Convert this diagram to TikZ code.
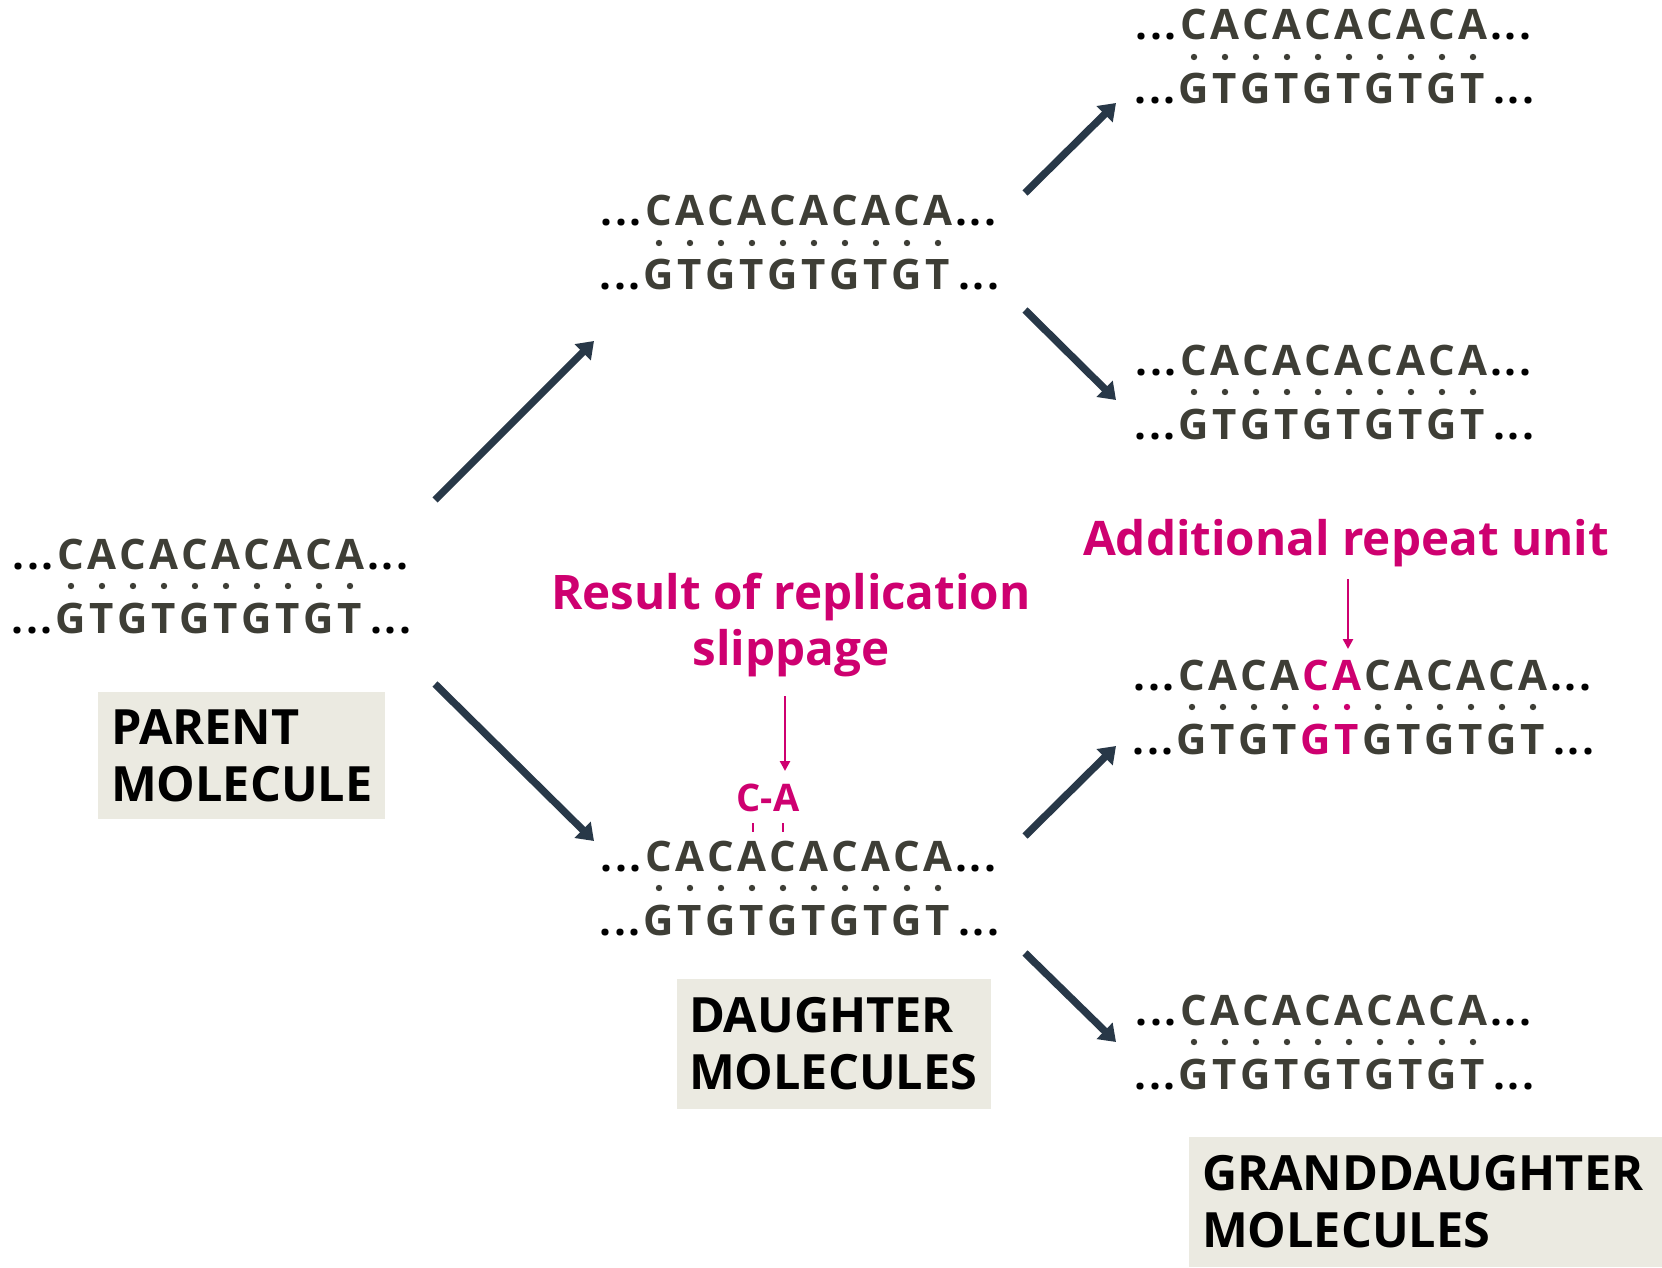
\documentclass[tikz,border=0pt]{standalone}
\usepackage{fontspec}
\setmainfont{Open Sans}
\usetikzlibrary{arrows.meta}
\definecolor{seqc}{RGB}{62,62,54}
\definecolor{pinkc}{RGB}{206,0,112}
\definecolor{arrc}{RGB}{40,56,72}
\definecolor{boxc}{RGB}{235,234,225}
\def\normalseq{C/G/seqc,A/T/seqc,C/G/seqc,A/T/seqc,C/G/seqc,A/T/seqc,C/G/seqc,A/T/seqc,C/G/seqc,A/T/seqc}
\def\mutantseq{C/G/seqc,A/T/seqc,C/G/seqc,A/T/seqc,C/G/pinkc,A/T/pinkc,C/G/seqc,A/T/seqc,C/G/seqc,A/T/seqc,C/G/seqc,A/T/seqc}
\newcommand\tdots{.\kern1.2pt.\kern1.2pt.}
\newcommand\dnaseq[4]{%
  \foreach \t/\b/\c [count=\i from 0] in #4 {
    \node[letter,text=\c] (#1t\i) at ({#2+\i*31},{#3+15}) {\t};
    \node[bp,fill=\c] (#1d\i) at ({#2+\i*31},{#3+32}) {};
    \node[letter,text=\c] (#1b\i) at ({#2+\i*31},{#3+79}) {\b};
    \xdef\lastidx{\i}
  }
  \node[letter,anchor=base east] (#1lt) at ({#2-17},{#3+15}) {\tdots};
  \node[letter,anchor=base east] (#1lb) at ({#2-18},{#3+79}) {\tdots};
  \node[letter,anchor=base west] (#1rt) at ({#2+\lastidx*31+17},{#3+15}) {\tdots};
  \node[letter,anchor=base west] (#1rb) at ({#2+\lastidx*31+20},{#3+79}) {\tdots};
}
\begin{document}
\begin{tikzpicture}[x=0.5pt,y=-0.5pt,
  letter/.style={anchor=base,inner sep=0pt,font=\fontsize{21}{24}\selectfont\bfseries},
  bp/.style={circle,inner sep=0pt,minimum size=3.2pt,draw=none},
  lbl/.style={fill=boxc,font=\fontsize{24.3}{28.5}\selectfont\bfseries,align=left,inner xsep=6.5pt,inner ysep=0pt},
  pinklbl/.style={text=pinkc,font=\fontsize{23.8}{28}\selectfont\bfseries,align=center,inner sep=0pt},
  bigarrow/.style={draw=arrc,line width=3.7pt,-{Triangle[width=11pt,length=8pt]}},
  pinkarrow/.style={draw=pinkc,line width=1.25pt,-{Triangle[width=5pt,length=5pt]}}]
\fill[white] (0,0) rectangle (1662,1268);
\useasboundingbox (0,0) rectangle (1662,1268);
% sequences
\dnaseq{par}{71}{554}{\normalseq}
\dnaseq{dtop}{659}{211}{\normalseq}
\dnaseq{dbot}{659}{856}{\normalseq}
\dnaseq{ga}{1194}{25}{\normalseq}
\dnaseq{gb}{1194}{360}{\normalseq}
\dnaseq{gc}{1192}{675}{\mutantseq}
\dnaseq{gd}{1194}{1010}{\normalseq}
% arrow end points
\coordinate (a1s) at (435,500); \coordinate (a1e) at (594,341);
\coordinate (a2s) at (435,684); \coordinate (a2e) at (594,841);
\coordinate (a3s) at (1025,193); \coordinate (a3e) at (1116,103);
\coordinate (a4s) at (1025,310); \coordinate (a4e) at (1116,400);
\coordinate (a5s) at (1025,836); \coordinate (a5e) at (1116,746);
\coordinate (a6s) at (1025,953); \coordinate (a6e) at (1116,1042);
\draw[bigarrow] (a1s) -- (a1e);
\draw[bigarrow] (a2s) -- (a2e);
\draw[bigarrow] (a3s) -- (a3e);
\draw[bigarrow] (a4s) -- (a4e);
\draw[bigarrow] (a5s) -- (a5e);
\draw[bigarrow] (a6s) -- (a6e);
% labels
\node[lbl,minimum width=143.5pt,minimum height=63.5pt,text width=130.5pt] (parent) at (241.5,755.5) {PARENT\\MOLECULE};
\node[lbl,minimum width=157pt,minimum height=65pt,text width=145pt,inner xsep=6pt] (daughter) at (834,1044) {DAUGHTER\\MOLECULES};
\node[lbl,minimum width=236.5pt,minimum height=65pt,text width=223.5pt] (grand) at (1425.5,1202) {GRANDDAUGHTER\\MOLECULES};
% pink annotations
\node[pinklbl] (slip) at (791,625) {Result of replication\\slippage};
\node[pinklbl] (addl) at (1346,543) {Additional repeat unit};
\node[text=pinkc,font=\fontsize{19}{21}\selectfont\bfseries,inner sep=0pt,anchor=base] (ca) at (768,811) {C-A};
\coordinate (s1) at (785,696); \coordinate (s2) at (785,771);
\draw[pinkarrow] (s1) -- (s2);
\coordinate (r1) at (1348,579); \coordinate (r2) at (1348,649);
\draw[pinkarrow] (r1) -- (r2);
\coordinate (t1a) at (753,823); \coordinate (t1b) at (753,832);
\coordinate (t2a) at (783,823); \coordinate (t2b) at (783,832);
\draw[pinkc,line width=1.2pt] (t1a) -- (t1b) (t2a) -- (t2b);
\end{tikzpicture}
\end{document}
